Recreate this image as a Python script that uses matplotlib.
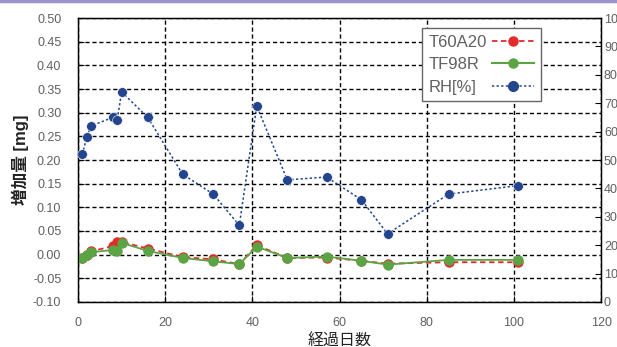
import matplotlib.pyplot as plt
from matplotlib.lines import Line2D

plt.rcParams['font.family'] = ['Liberation Sans', 'Noto Sans CJK JP', 'DejaVu Sans']

# 経過日数
days = [1, 2, 3, 8, 9, 10, 16, 24, 31, 37, 41, 48, 57, 65, 71, 85, 101]
# 増加量 [mg]
t60a20 = [-0.006, 0.000, 0.007, 0.018, 0.026, 0.027, 0.013, -0.005, -0.010, -0.020,
          0.020, -0.007, -0.006, -0.013, -0.019, -0.016, -0.016]
tf98r = [-0.007, -0.001, 0.005, 0.010, 0.008, 0.025, 0.008, -0.007, -0.014, -0.020,
         0.017, -0.007, -0.004, -0.013, -0.021, -0.011, -0.011]
# RH [%]
rh = [52, 58, 62, 65, 64, 74, 65, 45, 38, 27, 69, 43, 44, 36, 24, 38, 41]

red = '#e42a2a'
green = '#5ba445'
blue = '#22458e'
gray = '#606060'

fig = plt.figure(figsize=(6.17, 3.47), dpi=100)
ax = fig.add_axes([0.1264, 0.1297, 0.848, 0.8184])

# top border line
fig.add_artist(Line2D([0, 1], [0.997, 0.997], color='#9d93c8', lw=2.5))

ax.plot(days, t60a20, color=red, ls=(0, (3, 2)), lw=1.3, marker='o', ms=6.5,
        mec=red, mfc=red, zorder=3)
ax.plot(days, tf98r, color=green, ls='-', lw=1.3, marker='o', ms=6.5,
        mec=green, mfc=green, zorder=4)

ax.set_xlim(0, 120)
ax.set_ylim(-0.10, 0.50)
ax.set_xticks(range(0, 121, 20))
ax.set_yticks([i * 0.05 - 0.10 for i in range(13)])
ax.set_yticklabels(['%.2f' % (i * 0.05 - 0.10) for i in range(13)])

ax.grid(True, color='black', ls=(0, (3, 2)), lw=1.0)
ax.tick_params(direction='in', length=4, colors='black', labelcolor=gray, labelsize=9)
ax.tick_params(axis='y', pad=12)
ax.tick_params(axis='x', pad=11)
for s in ax.spines.values():
    s.set_linewidth(1.0)

ax.set_xlabel('経過日数', fontsize=11.5, color='#222222', labelpad=3)
ax.set_ylabel('増加量 [mg]', fontsize=12, color='#222222', fontweight='bold', labelpad=3)

ax2 = ax.twinx()
ax2.plot(days, rh, color=blue, ls=(0, (1.5, 1.5)), lw=1.1, marker='o', ms=7,
         mec='white', mew=0.4, mfc=blue, zorder=3)
ax2.set_ylim(0, 100)
ax2.set_yticks(range(0, 101, 10))
ax2.tick_params(direction='in', length=4, labelcolor=gray, labelsize=9, pad=2)

handles = [
    Line2D([], [], color=red, ls=(0, (3, 2)), lw=1.3, marker='o', ms=6.5, mfc=red, mec=red),
    Line2D([], [], color=green, ls='-', lw=1.5, marker='o', ms=6.5, mfc=green, mec=green),
    Line2D([], [], color=blue, ls=(0, (1.5, 1.5)), lw=1.1, marker='o', ms=7, mfc=blue, mec=blue),
]
leg = ax2.legend(handles, ['T60A20', 'TF98R', 'RH[%]'], loc='upper left',
                 bbox_to_anchor=(0.658, 0.965), markerfirst=False, fontsize=12,
                 frameon=True, fancybox=False, edgecolor='#666666', framealpha=1,
                 handlelength=2.5, labelspacing=0.45, borderpad=0.4, handletextpad=0.3,
                 borderaxespad=0)
leg.get_frame().set_linewidth(1.0)
for t in leg.get_texts():
    t.set_color(gray)

# left-align legend texts: widen the gap of shorter rows
fig.canvas.draw()
renderer = fig.canvas.get_renderer()
widths = [t.get_window_extent(renderer).width for t in leg.get_texts()]
wmax = max(widths)
rows = leg._legend_handle_box.get_children()[0].get_children()
for row, w in zip(rows, widths):
    row.sep = row.sep + (wmax - w) * 72 / fig.dpi

fig.savefig('out.png', dpi=100)
